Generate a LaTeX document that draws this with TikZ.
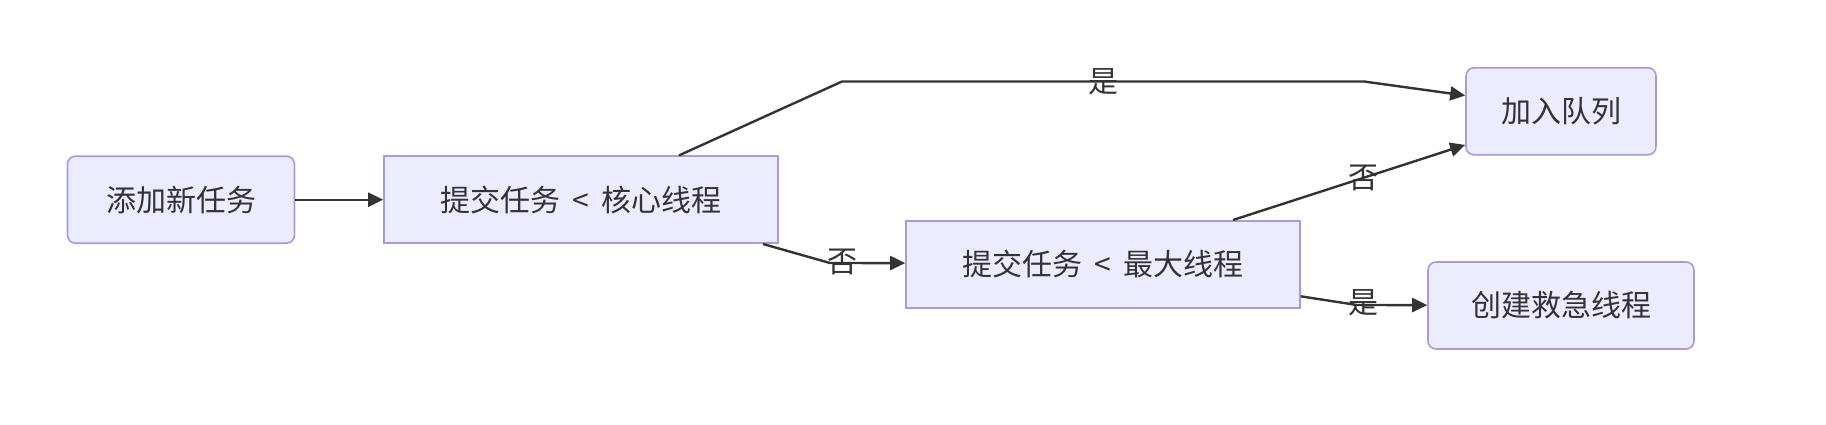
\documentclass[tikz,border=0pt]{standalone}
\usepackage{fontspec}
\setmainfont{Noto Sans CJK SC}
\usetikzlibrary{arrows.meta}
\definecolor{boxfill}{HTML}{ECECFF}
\definecolor{boxline}{RGB}{165,155,222}
\definecolor{flowline}{HTML}{333333}
\begin{document}
\begin{tikzpicture}[x=0.5pt,y=-0.5pt,
    font=\fontsize{15}{18}\selectfont, text=flowline,
    box/.style={draw=boxline, fill=boxfill, line width=0.8pt, inner sep=0pt,
        minimum height=43.5pt},
    roundbox/.style={box, rounded corners=4pt},
    flow/.style={draw=flowline, line width=1.2pt,
        -{Triangle[length=7.5pt,width=7pt]}},
    lbl/.style={inner sep=0pt}]
            \useasboundingbox (0,0) rectangle (1826,424);

            \node[roundbox, minimum width=113.5pt] (add) at (181,199.7) {添加新任务};
            \node[box, minimum width=197pt] (core) at (581,199.7) {提交任务 \,<\, 核心线程};
            \node[box, minimum width=197pt] (max) at (1103,264.3) {提交任务 \,<\, 最大线程};
            \node[roundbox, minimum width=95pt] (queue) at (1561,111.3) {加入队列};
            \node[roundbox, minimum width=133pt] (rescue) at (1561,305.5) {创建救急线程};

            \coordinate (yes1) at (842,81.5);
            \coordinate (yes2) at (1364,81.5);
            \coordinate (no1) at (830,263);
            \coordinate (yes3) at (1357,305);

            \draw[flow] (add) -- (core);
            \draw[flow] ([xshift=49pt]core.north) -- (yes1) -- node[lbl] {是} (yes2) -- ([yshift=7.9pt]queue.west);
            \draw[flow] ([xshift=91pt]core.south) -- (no1) -- ([yshift=0.6pt]max.west);
            \node[lbl] (nolbl1) at (842,262) {否};
            \draw[flow] ([xshift=65pt]max.north) -- node[lbl, pos=0.56] {否} ([yshift=-16.8pt]queue.west);
            \draw[flow] ([yshift=-16pt]max.east) -- (yes3) -- ([yshift=0.2pt]rescue.west);
            \node[lbl] (yeslbl2) at (1363,303) {是};
        \end{tikzpicture}
\end{document}
